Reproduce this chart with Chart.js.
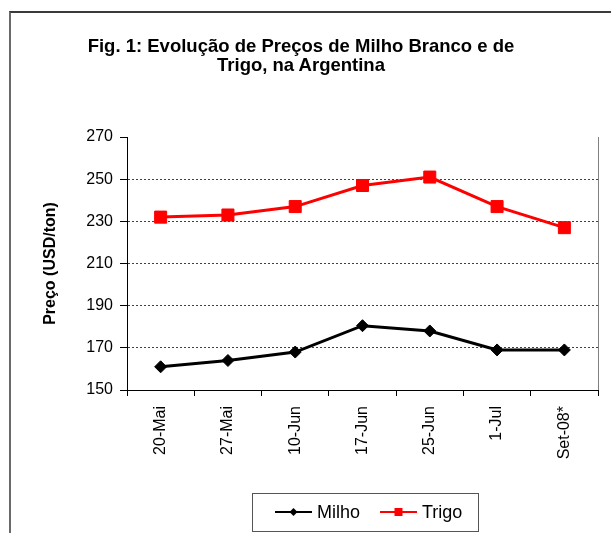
<!DOCTYPE html>
<html lang="pt">
<head>
<meta charset="UTF-8" />
<title>Evolução de Preços de Milho Branco e de Trigo</title>
<script src="https://cdn.jsdelivr.net/npm/chart.js"></script>
<style>
  body { margin: 0; background: #fff; }
  #quadro { position: relative; width: 611px; height: 533px; overflow: hidden; }
  #moldura { position: absolute; left: 9px; top: 11px; right: -4px; bottom: -4px;
             border-top: 2px solid #3a3a3a; border-left: 2px solid #6a6a6a; }
  #titulo { position: absolute; left: 0; top: 36px; width: 602px; text-align: center;
            font: bold 18.5px/19px "Liberation Sans", Arial, sans-serif; color: #000; }
  canvas { position: absolute; left: 0; top: 0; }
</style>
</head>
<body>
<div id="quadro">
  <div id="moldura"></div>
  <canvas id="grafico" width="611" height="533"></canvas>
  <div id="titulo">Fig. 1: Evolução de Preços de Milho Branco e de<br>Trigo, na Argentina</div>
</div>

<script>
  // dados (USD/ton)
  const datas = ['20-Mai', '27-Mai', '10-Jun', '17-Jun', '25-Jun', '1-Jul', 'Set-08*'];
  const milho = [161, 164, 168, 180.5, 178, 169, 169];
  const trigo = [232, 233, 237, 247, 251, 237, 227];
  const yMin = 150;
  const yMax = 270;
  const yPasso = 20;

  const fonte = '"Liberation Sans", Arial, sans-serif';

  // legenda com linha + marcador, e a borda direita da área do gráfico
  const legendaBox = {
    id: 'legendaBox',
    afterDraw(chart) {
      const ctx = chart.ctx;
      const area = chart.chartArea;
      ctx.save();

      ctx.strokeStyle = '#808080';
      ctx.lineWidth = 1;
      ctx.beginPath();
      ctx.moveTo(Math.round(area.right) + 0.5, area.top);
      ctx.lineTo(Math.round(area.right) + 0.5, area.bottom);
      ctx.stroke();

      ctx.strokeStyle = '#555';
      ctx.strokeRect(252.5, 493.5, 226, 38);

      const inicios = [275, 380];
      const y = 512;
      chart.data.datasets.forEach((ds, i) => {
        const x0 = inicios[i];
        ctx.strokeStyle = ds.borderColor;
        ctx.fillStyle = ds.borderColor;
        ctx.lineWidth = 2;
        ctx.beginPath();
        ctx.moveTo(x0, y);
        ctx.lineTo(x0 + 37, y);
        ctx.stroke();
        const cx = x0 + 18.5;
        ctx.beginPath();
        if (ds.pointStyle === 'rect') {
          ctx.rect(cx - 4, y - 4, 8, 8);
        } else {
          ctx.moveTo(cx, y - 4);
          ctx.lineTo(cx + 4, y);
          ctx.lineTo(cx, y + 4);
          ctx.lineTo(cx - 4, y);
          ctx.closePath();
        }
        ctx.fill();
        ctx.fillStyle = '#000';
        ctx.font = '18px ' + fonte;
        ctx.textBaseline = 'middle';
        ctx.textAlign = 'left';
        ctx.fillText(ds.label, x0 + 42, y + 1);
      });
      ctx.restore();
    }
  };

  new Chart(document.getElementById('grafico'), {
    type: 'line',
    data: {
      labels: datas,
      datasets: [
        {
          label: 'Milho',
          data: milho,
          borderColor: '#000000',
          backgroundColor: '#000000',
          borderWidth: 3,
          pointStyle: 'rectRot',
          pointRadius: 6,
          pointBorderWidth: 1
        },
        {
          label: 'Trigo',
          data: trigo,
          borderColor: '#ff0000',
          backgroundColor: '#ff0000',
          borderWidth: 3,
          pointStyle: 'rect',
          pointRadius: 8.5,
          pointBorderWidth: 1
        }
      ]
    },
    options: {
      responsive: false,
      animation: false,
      events: [],
      layout: { padding: { top: 137, right: 13, bottom: 73, left: 41 } },
      plugins: {
        legend: { display: false },
        title: { display: false },
        tooltip: { enabled: false }
      },
      scales: {
        x: {
          offset: true,
          ticks: {
            minRotation: 90, maxRotation: 90, autoSkip: false,
            padding: 10, color: '#000',
            font: { family: fonte, size: 16 }
          },
          grid: { offset: true, drawOnChartArea: false, tickLength: 6, tickColor: '#000' },
          border: { color: '#000', width: 1 },
          afterFit(escala) { escala.height = 70; }
        },
        y: {
          min: yMin,
          max: yMax,
          ticks: {
            stepSize: yPasso, padding: 7, color: '#000',
            font: { family: fonte, size: 16 }
          },
          grid: {
            color: ctx => (ctx.tick && (ctx.tick.value === yMin || ctx.tick.value === yMax)) ? 'rgba(0,0,0,0)' : '#404040',
            tickColor: '#000',
            tickLength: 7,
            lineWidth: 1
          },
          border: { color: '#000', width: 1, dash: [2, 2] },
          title: {
            display: true,
            text: 'Preço (USD/ton)',
            color: '#000',
            padding: 0,
            font: { family: fonte, size: 16, weight: 'bold' }
          },
          afterFit(escala) { escala.width = 86; }
        }
      }
    },
    plugins: [legendaBox]
  });
</script>
</body>
</html>
